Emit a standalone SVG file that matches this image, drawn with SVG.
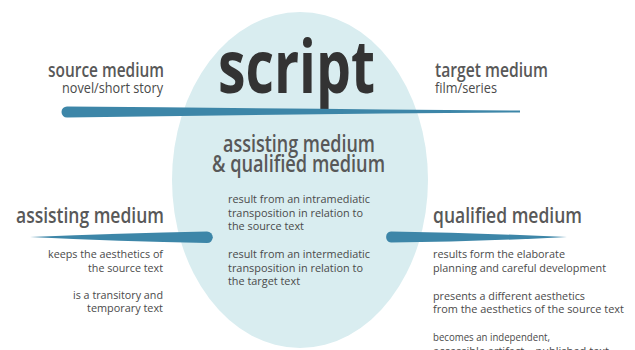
<svg xmlns="http://www.w3.org/2000/svg" width="635" height="350" viewBox="0 0 635 350">
  <style>
    .bg { fill: #ffffff; }
    .oval { fill: #d9edf0; }
    .bar { fill: #3d86a8; }
    .title { font-family: "Open Sans", "Liberation Sans", sans-serif; font-weight: 700; fill: #333333; }
    .head { font-family: "Open Sans", "Liberation Sans", sans-serif; font-weight: 600; fill: #585858; }
    .sub { font-family: "Open Sans", "Liberation Sans", sans-serif; font-weight: 400; fill: #4a4a4a; }
    .body { font-family: "Open Sans", "Liberation Sans", sans-serif; font-weight: 400; fill: #4a4a4a; font-size: 11px; }
    .end { text-anchor: end; }
  </style>

  <rect class="bg" x="0" y="0" width="635" height="350"/>

  <!-- central script oval -->
  <g id="script">
    <ellipse class="oval" cx="300" cy="180" rx="128" ry="168"/>
    <text class="title" x="218" y="93" font-size="74" textLength="157" lengthAdjust="spacingAndGlyphs">script</text>
    <text class="head" x="223" y="152" font-size="24" textLength="152" lengthAdjust="spacingAndGlyphs">assisting medium</text>
    <text class="head" x="212" y="172" font-size="24" textLength="173" lengthAdjust="spacingAndGlyphs">&amp; qualified medium</text>
    <text class="body" x="228" y="203" textLength="142" lengthAdjust="spacingAndGlyphs">result from an intramediatic</text>
    <text class="body" x="228" y="216.7" textLength="135" lengthAdjust="spacingAndGlyphs">transposition in relation to</text>
    <text class="body" x="228" y="230" textLength="76" lengthAdjust="spacingAndGlyphs">the source text</text>
    <text class="body" x="228" y="258.3" textLength="142" lengthAdjust="spacingAndGlyphs">result from an intermediatic</text>
    <text class="body" x="228" y="271.7" textLength="135" lengthAdjust="spacingAndGlyphs">transposition in relation to</text>
    <text class="body" x="228" y="285" textLength="72" lengthAdjust="spacingAndGlyphs">the target text</text>
  </g>

  <!-- tapered connector bars -->
  <g id="connectors">
    <path class="bar" d="M67,106.5 Q300,108.5 520,110.6 L520,112.4 Q300,114 67,117.5 A5.5,5.5 0 0 1 67,106.5 Z"/>
    <path class="bar" d="M30,237 Q120,233 207,231.5 A5.8,5.8 0 0 1 207,243.1 Q120,241.5 30,237 Z"/>
    <path class="bar" d="M391,231.5 Q480,233 567,237 Q480,241.5 391,242.6 A5.6,5.6 0 0 1 391,231.5 Z"/>
  </g>

  <g id="source-medium">
    <text class="head end" x="164" y="77" font-size="20" textLength="116" lengthAdjust="spacingAndGlyphs">source medium</text>
    <text class="sub end" x="163" y="93" font-size="14" textLength="101" lengthAdjust="spacingAndGlyphs">novel/short story</text>
  </g>

  <g id="target-medium">
    <text class="head" x="435" y="77" font-size="20" textLength="113" lengthAdjust="spacingAndGlyphs">target medium</text>
    <text class="sub" x="435" y="93" font-size="14" textLength="62" lengthAdjust="spacingAndGlyphs">film/series</text>
  </g>

  <g id="assisting-medium">
    <text class="head end" x="164" y="223" font-size="21" textLength="148" lengthAdjust="spacingAndGlyphs">assisting medium</text>
    <text class="body end" x="163" y="258.3" textLength="115" lengthAdjust="spacingAndGlyphs">keeps the aesthetics of</text>
    <text class="body end" x="163" y="271.7" textLength="75" lengthAdjust="spacingAndGlyphs">the source text</text>
    <text class="body end" x="163" y="299" textLength="90" lengthAdjust="spacingAndGlyphs">is a transitory and</text>
    <text class="body end" x="163" y="312.3" textLength="76" lengthAdjust="spacingAndGlyphs">temporary text</text>
  </g>

  <g id="qualified-medium">
    <text class="head" x="433" y="223" font-size="21" textLength="149" lengthAdjust="spacingAndGlyphs">qualified medium</text>
    <text class="body" x="433" y="258.3" textLength="132" lengthAdjust="spacingAndGlyphs">results form the elaborate</text>
    <text class="body" x="433" y="271.7" textLength="173" lengthAdjust="spacingAndGlyphs">planning and careful development</text>
    <text class="body" x="433" y="300" textLength="152" lengthAdjust="spacingAndGlyphs">presents a different aesthetics</text>
    <text class="body" x="433" y="313.3" textLength="191" lengthAdjust="spacingAndGlyphs">from the aesthetics of the source text</text>
    <text class="body" x="433" y="341" textLength="117" lengthAdjust="spacingAndGlyphs">becomes an independent,</text>
    <text class="body" x="433" y="354.5" textLength="176" lengthAdjust="spacingAndGlyphs">accessible artifact – published text</text>
  </g>
</svg>
